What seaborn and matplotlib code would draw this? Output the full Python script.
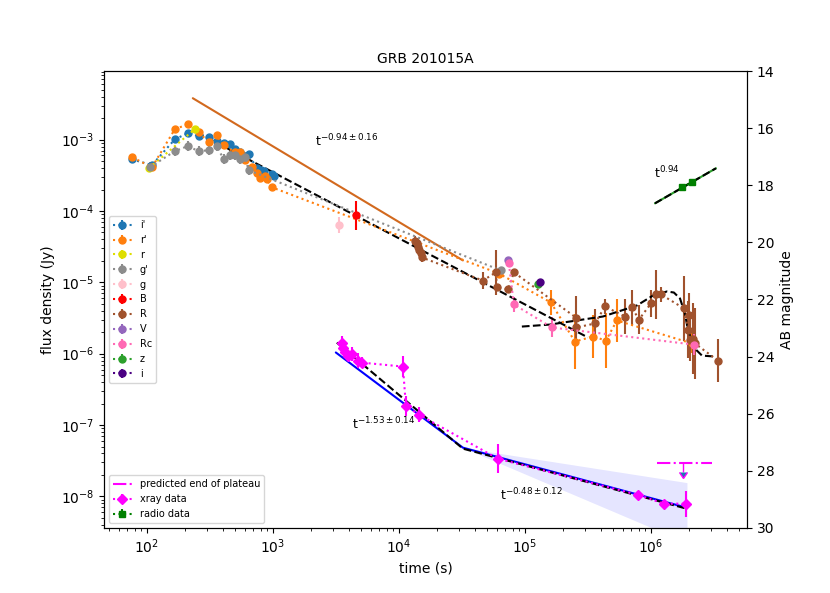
import numpy as np
import pandas as pd
import matplotlib
matplotlib.use("Agg")
import matplotlib.pyplot as plt
import seaborn as sns

sns.set_style("ticks", {"axes.edgecolor": "black", "xtick.color": "black",
                        "ytick.color": "black", "text.color": "black",
                        "axes.labelcolor": "black"})
plt.rcParams['font.family'] = ['DejaVu Sans']

# ---- optical photometry: time (s), flux density (Jy), error (dex) ----
ip_t = [76, 110, 167, 211, 259, 310, 359, 408, 456, 499, 547, 645, 747, 803, 849, 982, 1018]
ip_f = [5.3e-4, 4.4e-4, 1.01e-3, 1.23e-3, 1.12e-3, 1.08e-3, 9.5e-4, 8.9e-4, 8.6e-4,
        7.3e-4, 6.65e-4, 6.2e-4, 3.97e-4, 3.72e-4, 3.6e-4, 3.27e-4, 3.06e-4]
ip_e = [0.03] * 17

rp_t = [77, 110, 167, 211, 259, 310, 359, 408, 499, 547, 600, 681, 747, 789, 865, 896, 982,
        62200, 160700, 249300, 346700, 439500, 537000, 2.12e6]
rp_f = [5.66e-4, 4.1e-4, 1.4e-3, 1.64e-3, 1.27e-3, 9.2e-4, 1.15e-3, 8.3e-4, 6.65e-4, 6.65e-4,
        5.14e-4, 4.1e-4, 3.38e-4, 2.87e-4, 3.06e-4, 2.78e-4, 2.15e-4,
        1.33e-5, 5.22e-6, 1.48e-6, 1.74e-6, 1.53e-6, 2.92e-6, 1.39e-6]
rp_e = [0.03] * 17 + [0.05, 0.18, 0.38, 0.3, 0.38, 0.3, 0.14]

r_t = [104, 240]
r_f = [3.97e-4, 1.4e-3]
r_e = [0.03, 0.03]

gp_t = [106, 167, 211, 259, 310, 359, 408, 456, 499, 547, 600, 645, 64500]
gp_f = [4.1e-4, 6.9e-4, 8.1e-4, 6.9e-4, 7.1e-4, 8.1e-4, 5.3e-4, 6.0e-4, 6.0e-4, 5.3e-4,
        5.66e-4, 3.72e-4, 1.47e-5]
gp_e = [0.07] * 12 + [0.04]

g_t, g_f, g_e = [3342], [6.3e-5], [0.11]
B_t, B_f, B_e = [4560], [8.7e-5], [0.2]

R_t = [13400, 13900, 14150, 14420, 14960, 15240, 46400, 58900, 60000, 73300, 81800,
       254000, 256000, 359700, 431500, 622000, 706000, 803000, 1.0e6, 1.096e6, 1.2e6,
       1.828e6, 1.98e6, 2.004e6, 2.03e6, 2.15e6, 2.234e6, 3.40e6]
R_f = [3.75e-5, 3.52e-5, 3.09e-5, 2.81e-5, 2.55e-5, 2.23e-5, 1.06e-5, 1.38e-5, 8.48e-6,
       7.94e-6, 1.38e-5, 3.21e-6, 2.33e-6, 2.65e-6, 4.59e-6, 3.32e-6, 4.45e-6, 3.01e-6,
       5.06e-6, 6.76e-6, 6.76e-6, 4.31e-6, 2.18e-6, 3.54e-6, 1.58e-6, 1.63e-6, 1.39e-6, 8.0e-7]
R_e = [0.07] * 6 + [0.12, 0.32, 0.05, 0.05, 0.05, 0.3, 0.1, 0.2, 0.1, 0.24, 0.25, 0.2,
                    0.19, 0.35, 0.1, 0.45, 0.4, 0.3, 0.3, 0.5, 0.5, 0.3]

V_t, V_f, V_e = [73300], [2.09e-5], [0.03]
Rc_t = [74600, 81800, 163700, 2.193e6]
Rc_f = [1.84e-5, 4.9e-6, 2.33e-6, 1.34e-6]
Rc_e = [0.03, 0.11, 0.14, 0.15]
z_t, z_f, z_e = [126900], [9.35e-6], [0.03]
i_t, i_f, i_e = [131500], [9.97e-6], [0.03]

# ---- X-ray and radio ----
x_t = [3532, 3597, 3727, 3936, 4237, 4732, 5085, 10770, 11370, 14420, 61100, 788000, 1.268e6, 1.897e6]
x_f = [1.39e-6, 1.22e-6, 1.04e-6, 9.4e-7, 1.0e-6, 8.0e-7, 7.5e-7, 6.6e-7, 1.87e-7, 1.40e-7,
       3.37e-8, 1.05e-8, 7.9e-9, 7.9e-9]
x_e = [0.1, 0.1, 0.08, 0.08, 0.1, 0.1, 0.08, 0.15, 0.14, 0.1, 0.2, 0.06, 0.05, 0.18]

rad_t = [1.762e6, 2.115e6]
rad_f = [2.15e-4, 2.52e-4]
rad_e = [0.02, 0.02]

# ---- model curves (knots) ----
opt_pl_t = [249, 316000]
opt_pl_f = [1.27e-3, 1.69e-6]
fit_t = [232, 32200]            # solid t^-0.94 line
fit_f = [3.81e-3, 2.03e-5]
bump_t = [9.46e4, 1.58e5, 2.88e5, 4.16e5, 7.74e5, 1.04e6, 1.34e6, 1.52e6, 1.70e6,
          1.86e6, 1.97e6, 2.23e6, 2.54e6, 3.22e6]
bump_f = [2.40e-6, 2.56e-6, 3.01e-6, 3.32e-6, 4.74e-6, 6.55e-6, 7.45e-6, 7.2e-6, 5.94e-6,
          3.66e-6, 2.11e-6, 1.18e-6, 9.4e-7, 9.12e-7]
xmod_t = [3221, 32200, 1.93e6]
xmod_f = [1.43e-6, 4.67e-8, 6.71e-9]
xfit_t = [3162, 32200, 1.93e6]
xfit_f = [1.04e-6, 4.82e-8, 6.93e-9]
band_t = [32200, 1.93e6]
band_hi = [4.82e-8, 1.56e-8]
band_lo = [4.82e-8, 2.24e-9]
radfit_t = [1.076e6, 3.28e6]
radfit_f = [1.28e-4, 3.97e-4]
plateau_t = [1.117e6, 3.05e6]
plateau_f = 2.96e-8
plateau_arrow_t = 1.795e6
plateau_arrow_low = 2.2e-8


def yerr(f, e):
    f = np.asarray(f, dtype=float)
    e = np.asarray(e, dtype=float)
    return [f - f * 10 ** (-e), f * 10 ** e - f]


fig = plt.figure(figsize=(8.3, 5.93), dpi=100)
ax = fig.add_subplot(111)
ax.set_xscale('log')
ax.set_yscale('log')

optical = [
    ("i'", ip_t, ip_f, ip_e, '#1f77b4'),
    ("r'", rp_t, rp_f, rp_e, '#ff7f0e'),
    ("r", r_t, r_f, r_e, '#dede00'),
    ("g'", gp_t, gp_f, gp_e, '#8c8c8c'),
    ("g", g_t, g_f, g_e, 'pink'),
    ("B", B_t, B_f, B_e, 'red'),
    ("R", R_t, R_f, R_e, 'sienna'),
    ("V", V_t, V_f, V_e, '#9467bd'),
    ("Rc", Rc_t, Rc_f, Rc_e, 'hotpink'),
    ("z", z_t, z_f, z_e, '#2ca02c'),
    ("i", i_t, i_f, i_e, 'indigo'),
]
opt_handles = []
for lab, t, f, e, c in optical:
    h = ax.errorbar(t, f, yerr=yerr(f, e), fmt='o:', color=c, ms=5, label=lab)
    opt_handles.append(h)

# model lines
ax.fill_between(band_t, band_lo, band_hi, color='blue', alpha=0.1, lw=0)
sns.lineplot(x=fit_t, y=fit_f, ax=ax, color='#d2691e', lw=1.5)
sns.lineplot(x=opt_pl_t, y=opt_pl_f, ax=ax, color='k', linestyle='--', lw=1.5)
sns.lineplot(x=bump_t, y=bump_f, ax=ax, color='k', linestyle='--', lw=1.5)
sns.lineplot(x=xfit_t, y=xfit_f, ax=ax, color='blue', lw=1.5)
sns.lineplot(x=xmod_t, y=xmod_f, ax=ax, color='k', linestyle='--', lw=1.5)
sns.lineplot(x=radfit_t, y=radfit_f, ax=ax, color='#2ca02c', lw=1.5)
sns.lineplot(x=radfit_t, y=radfit_f, ax=ax, color='k', linestyle='--', lw=1.5)

h_x = ax.errorbar(x_t, x_f, yerr=yerr(x_f, x_e), fmt='D:', color='magenta', ms=5,
                  label='xray data')
h_rad = ax.errorbar(rad_t, rad_f, yerr=yerr(rad_f, rad_e), fmt='s:', color='green', ms=5,
                    label='radio data')
h_pl, = ax.plot(plateau_t, [plateau_f] * 2, color='magenta', ls='-.', lw=1.5,
                label='predicted end of plateau')
ax.errorbar([plateau_arrow_t], [plateau_f], yerr=[[plateau_f - plateau_arrow_low], [0]],
            uplims=True, fmt='none', ecolor='magenta', lw=1)

ax.text(2153, 9.5e-4, r'$\mathrm{t}^{-0.94\pm0.16}$', va='center', fontsize=9)
ax.text(4237, 1.05e-7, r'$\mathrm{t}^{-1.53\pm0.14}$', va='center', fontsize=9)
ax.text(63400, 1.05e-8, r'$\mathrm{t}^{-0.48\pm0.12}$', va='center', fontsize=9)
ax.text(1.057e6, 3.38e-4, r'$\mathrm{t}^{0.94}$', va='center', fontsize=9)

ax.set_xlim(45.6, 5.78e6)
ax.set_ylim(3631 * 10 ** (-0.4 * 30), 3631 * 10 ** (-0.4 * 14))
ax.set_xlabel('time (s)')
ax.set_ylabel('flux density (Jy)')
ax.set_title('GRB 201015A', fontsize=10)

leg1 = ax.legend(opt_handles, [o[0] for o in optical], loc='center left', fontsize=7)
ax.add_artist(leg1)
ax.legend([h_pl, h_x, h_rad], ['predicted end of plateau', 'xray data', 'radio data'],
          loc='lower left', fontsize=7)

ax2 = ax.twinx()
ax2.set_ylim(30, 14)
ax2.set_yticks(np.arange(14, 31, 2))
ax2.set_ylabel('AB magnitude')

fig.savefig('out.png', dpi=100)
